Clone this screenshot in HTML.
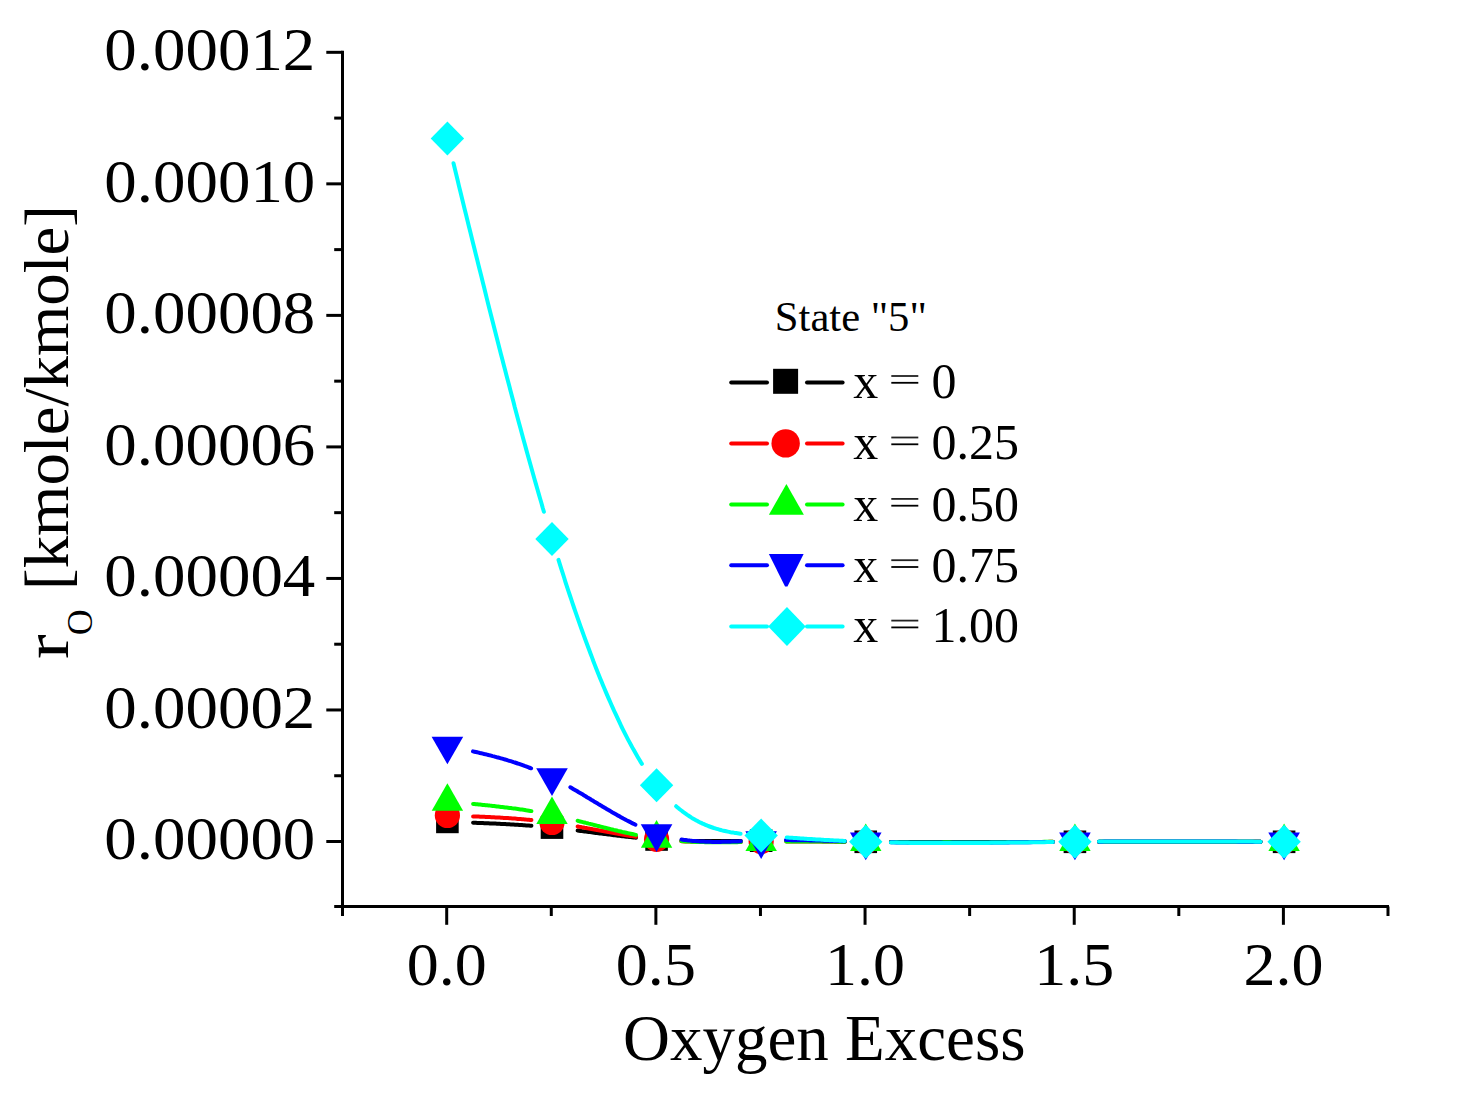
<!DOCTYPE html>
<html><head><meta charset="utf-8"><style>
html,body{margin:0;padding:0;background:#fff;width:1463px;height:1095px;overflow:hidden}
text{font-family:"Liberation Serif", serif}
</style></head><body>
<svg width="1463" height="1095" viewBox="0 0 1463 1095" style="position:absolute;left:0;top:0;font-family:&quot;Liberation Serif&quot;, serif">
<rect width="100%" height="100%" fill="#fff"/>
<g stroke="#000" stroke-width="3" fill="none">
<line x1="342.5" y1="50.8" x2="342.5" y2="908"/>
<line x1="341" y1="906.5" x2="1389" y2="906.5"/>
<line x1="326.3" y1="841.50" x2="342.5" y2="841.50"/>
<line x1="326.3" y1="709.97" x2="342.5" y2="709.97"/>
<line x1="326.3" y1="578.44" x2="342.5" y2="578.44"/>
<line x1="326.3" y1="446.91" x2="342.5" y2="446.91"/>
<line x1="326.3" y1="315.38" x2="342.5" y2="315.38"/>
<line x1="326.3" y1="183.85" x2="342.5" y2="183.85"/>
<line x1="326.3" y1="52.32" x2="342.5" y2="52.32"/>
<line x1="334.2" y1="906.50" x2="342.5" y2="906.50"/>
<line x1="334.2" y1="775.74" x2="342.5" y2="775.74"/>
<line x1="334.2" y1="644.21" x2="342.5" y2="644.21"/>
<line x1="334.2" y1="512.67" x2="342.5" y2="512.67"/>
<line x1="334.2" y1="381.15" x2="342.5" y2="381.15"/>
<line x1="334.2" y1="249.62" x2="342.5" y2="249.62"/>
<line x1="334.2" y1="118.09" x2="342.5" y2="118.09"/>
<line x1="446.70" y1="906.5" x2="446.70" y2="924.8"/>
<line x1="655.88" y1="906.5" x2="655.88" y2="924.8"/>
<line x1="865.05" y1="906.5" x2="865.05" y2="924.8"/>
<line x1="1074.23" y1="906.5" x2="1074.23" y2="924.8"/>
<line x1="1283.40" y1="906.5" x2="1283.40" y2="924.8"/>
<line x1="342.50" y1="906.5" x2="342.50" y2="916"/>
<line x1="551.29" y1="906.5" x2="551.29" y2="916"/>
<line x1="760.46" y1="906.5" x2="760.46" y2="916"/>
<line x1="969.64" y1="906.5" x2="969.64" y2="916"/>
<line x1="1178.81" y1="906.5" x2="1178.81" y2="916"/>
<line x1="1387.99" y1="906.5" x2="1387.99" y2="916"/>
</g>
<text transform="translate(104.30,859.40) scale(1.0475,1)" font-size="62">0.00000</text>
<text transform="translate(104.30,727.87) scale(1.0475,1)" font-size="62">0.00002</text>
<text transform="translate(104.30,596.34) scale(1.0475,1)" font-size="62">0.00004</text>
<text transform="translate(104.30,464.81) scale(1.0475,1)" font-size="62">0.00006</text>
<text transform="translate(104.30,333.28) scale(1.0475,1)" font-size="62">0.00008</text>
<text transform="translate(104.30,201.75) scale(1.0475,1)" font-size="62">0.00010</text>
<text transform="translate(104.30,70.22) scale(1.0475,1)" font-size="62">0.00012</text>
<text transform="translate(446.70,985.3) scale(1.033,1)" font-size="62" text-anchor="middle">0.0</text>
<text transform="translate(655.88,985.3) scale(1.033,1)" font-size="62" text-anchor="middle">0.5</text>
<text transform="translate(865.05,985.3) scale(1.033,1)" font-size="62" text-anchor="middle">1.0</text>
<text transform="translate(1074.23,985.3) scale(1.033,1)" font-size="62" text-anchor="middle">1.5</text>
<text transform="translate(1283.40,985.3) scale(1.033,1)" font-size="62" text-anchor="middle">2.0</text>
<text transform="translate(622.94,1059.50) scale(1.0000,1)" font-size="65" fill="#000" >Oxygen Excess</text>
<text transform="translate(67.70,658.98) rotate(-90) scale(1.1650,1)" font-size="63.5">r</text>
<text transform="translate(92.30,635.28) rotate(-90) scale(1.0000,1)" font-size="36">O</text>
<text transform="translate(67.70,589.91) rotate(-90) scale(1.0200,1)" font-size="63.5">[kmole/kmole]</text>
<polyline points="473.1,822.7 474.5,822.8 475.9,822.8 477.3,822.9 478.7,822.9 480.1,823.0 481.5,823.1 482.9,823.1 484.3,823.2 485.7,823.2 487.1,823.3 488.5,823.3 489.9,823.4 491.3,823.5 492.7,823.5 494.1,823.6 495.5,823.6 496.9,823.7 498.2,823.8 499.6,823.8 501.0,823.9 502.4,824.0 503.8,824.0 505.2,824.1 506.6,824.2 508.0,824.3 509.4,824.3 510.8,824.4 512.2,824.5 513.6,824.6 515.0,824.7 516.4,824.8 517.8,824.8 519.2,824.9 520.6,825.0 522.0,825.1 523.4,825.2 524.8,825.3 526.1,825.4 527.5,825.5 528.9,825.6 530.3,825.7 531.4,825.8" fill="none" stroke="#000000" stroke-width="4" stroke-linecap="round" stroke-linejoin="round"/>
<polyline points="577.6,830.5 579.0,830.7 580.4,830.9 581.8,831.1 583.2,831.2 584.6,831.4 586.0,831.6 587.3,831.8 588.7,832.0 590.1,832.1 591.5,832.3 592.9,832.5 594.3,832.7 595.7,832.9 597.1,833.0 598.5,833.2 599.9,833.4 601.3,833.6 602.7,833.8 604.1,833.9 605.5,834.1 606.9,834.3 608.3,834.5 609.7,834.6 611.1,834.8 612.5,835.0 613.9,835.2 615.2,835.3 616.6,835.5 618.0,835.7 619.4,835.8 620.8,836.0 622.2,836.2 623.6,836.3 625.0,836.5 626.4,836.7 627.8,836.8 629.2,837.0 630.6,837.1 632.0,837.3 633.4,837.4 634.8,837.6 636.0,837.7" fill="none" stroke="#000000" stroke-width="4" stroke-linecap="round" stroke-linejoin="round"/>
<polyline points="681.4,840.7 682.8,840.7 684.2,840.8 685.6,840.8 687.0,840.8 688.4,840.9 689.8,840.9 691.2,840.9 692.6,840.9 694.0,841.0 695.4,841.0 696.7,841.0 698.1,841.0 699.5,841.0 700.9,841.0 702.3,841.0 703.7,841.1 705.1,841.1 706.5,841.1 707.9,841.1 709.3,841.1 710.7,841.1 712.1,841.1 713.5,841.1 714.9,841.1 716.3,841.1 717.7,841.0 719.1,841.0 720.5,841.0 721.9,841.0 723.3,841.0 724.6,841.0 726.0,841.0 727.4,841.0 728.8,841.0 730.2,841.0 731.6,840.9 733.0,840.9 734.4,840.9 735.8,840.9 737.2,840.9 738.6,840.9 740.0,840.9 740.8,840.9" fill="none" stroke="#000000" stroke-width="4" stroke-linecap="round" stroke-linejoin="round"/>
<polyline points="786.3,840.7 787.7,840.8 789.1,840.8 790.5,840.8 791.9,840.8 793.3,840.8 794.7,840.8 796.1,840.8 797.5,840.8 798.9,840.9 800.3,840.9 801.7,840.9 803.0,840.9 804.4,840.9 805.8,840.9 807.2,841.0 808.6,841.0 810.0,841.0 811.4,841.0 812.8,841.0 814.2,841.0 815.6,841.1 817.0,841.1 818.4,841.1 819.8,841.1 821.2,841.1 822.6,841.2 824.0,841.2 825.4,841.2 826.8,841.2 828.2,841.2 829.6,841.3 830.9,841.3 832.3,841.3 833.7,841.3 835.1,841.4 836.5,841.4 837.9,841.4 839.3,841.4 840.7,841.4 842.1,841.5 843.5,841.5 844.8,841.5" fill="none" stroke="#000000" stroke-width="4" stroke-linecap="round" stroke-linejoin="round"/>
<polyline points="890.9,842.1 893.7,842.1 896.5,842.1 899.3,842.1 902.1,842.1 904.9,842.1 907.7,842.2 910.5,842.2 913.2,842.2 916.0,842.2 918.8,842.2 921.6,842.2 924.4,842.2 927.2,842.2 930.0,842.2 932.8,842.2 935.6,842.2 938.4,842.2 941.1,842.2 943.9,842.2 946.7,842.2 949.5,842.2 952.3,842.2 955.1,842.2 957.9,842.2 960.7,842.2 963.5,842.2 966.3,842.2 969.0,842.2 971.8,842.2 974.6,842.2 977.4,842.2 980.2,842.2 983.0,842.2 985.8,842.2 988.6,842.2 991.4,842.2 994.2,842.1 996.9,842.1 999.7,842.1 1002.5,842.1 1005.3,842.1 1008.1,842.1 1010.9,842.1 1013.7,842.1 1016.5,842.1 1019.3,842.0 1022.1,842.0 1024.8,842.0 1027.6,842.0 1030.4,842.0 1033.2,842.0 1036.0,842.0 1038.8,842.0 1041.6,841.9 1044.4,841.9 1047.2,841.9 1050.0,841.9 1052.7,841.9 1052.8,841.9" fill="none" stroke="#000000" stroke-width="4" stroke-linecap="round" stroke-linejoin="round"/>
<polyline points="1099.0,841.7 1101.8,841.7 1104.6,841.7 1107.4,841.7 1110.1,841.7 1112.9,841.7 1115.7,841.7 1118.5,841.7 1121.3,841.7 1124.1,841.7 1126.9,841.7 1129.7,841.7 1132.5,841.7 1135.3,841.7 1138.0,841.7 1140.8,841.7 1143.6,841.7 1146.4,841.7 1149.2,841.7 1152.0,841.7 1154.8,841.7 1157.6,841.7 1160.4,841.7 1163.2,841.7 1165.9,841.7 1168.7,841.7 1171.5,841.7 1174.3,841.7 1177.1,841.7 1179.9,841.7 1182.7,841.7 1185.5,841.7 1188.3,841.7 1191.1,841.7 1193.8,841.7 1196.6,841.7 1199.4,841.7 1202.2,841.7 1205.0,841.7 1207.8,841.7 1210.6,841.7 1213.4,841.7 1216.2,841.7 1219.0,841.7 1221.7,841.7 1224.5,841.7 1227.3,841.7 1230.1,841.7 1232.9,841.7 1235.7,841.7 1238.5,841.7 1241.3,841.7 1244.1,841.7 1246.9,841.7 1249.6,841.7 1252.4,841.7 1255.2,841.7 1258.0,841.8 1260.5,841.8" fill="none" stroke="#000000" stroke-width="4" stroke-linecap="round" stroke-linejoin="round"/>
<rect x="436.10" y="810.60" width="22.60" height="22.60" fill="#000000"/>
<rect x="540.69" y="816.30" width="22.60" height="22.60" fill="#000000"/>
<rect x="645.28" y="828.20" width="22.60" height="22.60" fill="#000000"/>
<rect x="749.86" y="829.40" width="22.60" height="22.60" fill="#000000"/>
<rect x="854.45" y="830.50" width="22.60" height="22.60" fill="#000000"/>
<rect x="1063.63" y="830.50" width="22.60" height="22.60" fill="#000000"/>
<rect x="1272.80" y="830.50" width="22.60" height="22.60" fill="#000000"/>
<polyline points="473.1,816.4 474.5,816.4 475.9,816.5 477.3,816.5 478.7,816.6 480.1,816.7 481.5,816.7 482.9,816.8 484.3,816.8 485.7,816.9 487.1,817.0 488.5,817.0 489.9,817.1 491.3,817.2 492.7,817.2 494.1,817.3 495.5,817.4 496.9,817.5 498.2,817.5 499.6,817.6 501.0,817.7 502.4,817.8 503.8,817.9 505.2,818.0 506.6,818.1 508.0,818.1 509.4,818.2 510.8,818.3 512.2,818.4 513.6,818.5 515.0,818.6 516.4,818.7 517.8,818.9 519.2,819.0 520.6,819.1 522.0,819.2 523.4,819.3 524.8,819.4 526.1,819.6 527.5,819.7 528.9,819.8 530.3,820.0 531.4,820.1" fill="none" stroke="#ff0000" stroke-width="4" stroke-linecap="round" stroke-linejoin="round"/>
<polyline points="577.6,826.5 579.0,826.8 580.4,827.0 581.8,827.3 583.2,827.5 584.6,827.8 586.0,828.0 587.3,828.3 588.7,828.5 590.1,828.8 591.5,829.0 592.9,829.3 594.3,829.5 595.7,829.8 597.1,830.1 598.5,830.3 599.9,830.6 601.3,830.8 602.7,831.1 604.1,831.3 605.5,831.6 606.9,831.8 608.3,832.1 609.7,832.3 611.1,832.6 612.5,832.8 613.9,833.1 615.2,833.3 616.6,833.6 618.0,833.8 619.4,834.1 620.8,834.3 622.2,834.5 623.6,834.8 625.0,835.0 626.4,835.2 627.8,835.5 629.2,835.7 630.6,835.9 632.0,836.1 633.4,836.3 634.8,836.6 636.0,836.7" fill="none" stroke="#ff0000" stroke-width="4" stroke-linecap="round" stroke-linejoin="round"/>
<polyline points="681.4,841.3 682.8,841.3 684.2,841.4 685.6,841.5 687.0,841.5 688.4,841.6 689.8,841.6 691.2,841.7 692.6,841.7 694.0,841.8 695.4,841.8 696.7,841.8 698.1,841.9 699.5,841.9 700.9,841.9 702.3,841.9 703.7,842.0 705.1,842.0 706.5,842.0 707.9,842.0 709.3,842.0 710.7,842.0 712.1,842.0 713.5,842.0 714.9,842.0 716.3,842.0 717.7,842.0 719.1,842.0 720.5,842.0 721.9,842.0 723.3,842.0 724.6,842.0 726.0,842.0 727.4,842.0 728.8,842.0 730.2,842.0 731.6,842.0 733.0,841.9 734.4,841.9 735.8,841.9 737.2,841.9 738.6,841.9 740.0,841.9 740.8,841.9" fill="none" stroke="#ff0000" stroke-width="4" stroke-linecap="round" stroke-linejoin="round"/>
<polyline points="786.3,841.4 787.7,841.4 789.1,841.4 790.5,841.4 791.9,841.4 793.3,841.4 794.7,841.4 796.1,841.4 797.5,841.4 798.9,841.4 800.3,841.4 801.7,841.5 803.0,841.5 804.4,841.5 805.8,841.5 807.2,841.5 808.6,841.5 810.0,841.5 811.4,841.5 812.8,841.5 814.2,841.5 815.6,841.5 817.0,841.5 818.4,841.5 819.8,841.5 821.2,841.5 822.6,841.5 824.0,841.5 825.4,841.5 826.8,841.6 828.2,841.6 829.6,841.6 830.9,841.6 832.3,841.6 833.7,841.6 835.1,841.6 836.5,841.6 837.9,841.6 839.3,841.6 840.7,841.6 842.1,841.6 843.5,841.7 844.8,841.7" fill="none" stroke="#ff0000" stroke-width="4" stroke-linecap="round" stroke-linejoin="round"/>
<polyline points="890.9,841.9 893.7,841.9 896.5,841.9 899.3,841.9 902.1,841.9 904.9,842.0 907.7,842.0 910.5,842.0 913.2,842.0 916.0,842.0 918.8,842.0 921.6,842.0 924.4,842.0 927.2,842.0 930.0,842.0 932.8,842.0 935.6,842.0 938.4,842.0 941.1,842.0 943.9,842.0 946.7,842.0 949.5,842.0 952.3,842.0 955.1,842.0 957.9,842.0 960.7,842.0 963.5,842.0 966.3,842.0 969.0,842.0 971.8,842.0 974.6,842.0 977.4,842.0 980.2,842.0 983.0,842.0 985.8,842.0 988.6,842.0 991.4,842.0 994.2,842.0 996.9,842.0 999.7,841.9 1002.5,841.9 1005.3,841.9 1008.1,841.9 1010.9,841.9 1013.7,841.9 1016.5,841.9 1019.3,841.9 1022.1,841.9 1024.8,841.9 1027.6,841.9 1030.4,841.9 1033.2,841.9 1036.0,841.9 1038.8,841.9 1041.6,841.9 1044.4,841.9 1047.2,841.9 1050.0,841.8 1052.7,841.8 1052.8,841.8" fill="none" stroke="#ff0000" stroke-width="4" stroke-linecap="round" stroke-linejoin="round"/>
<polyline points="1099.0,841.8 1101.8,841.8 1104.6,841.8 1107.4,841.8 1110.1,841.8 1112.9,841.8 1115.7,841.8 1118.5,841.7 1121.3,841.7 1124.1,841.7 1126.9,841.7 1129.7,841.7 1132.5,841.7 1135.3,841.7 1138.0,841.7 1140.8,841.7 1143.6,841.7 1146.4,841.7 1149.2,841.7 1152.0,841.7 1154.8,841.7 1157.6,841.7 1160.4,841.7 1163.2,841.7 1165.9,841.7 1168.7,841.7 1171.5,841.7 1174.3,841.7 1177.1,841.7 1179.9,841.7 1182.7,841.7 1185.5,841.7 1188.3,841.7 1191.1,841.7 1193.8,841.7 1196.6,841.7 1199.4,841.7 1202.2,841.7 1205.0,841.7 1207.8,841.7 1210.6,841.7 1213.4,841.7 1216.2,841.8 1219.0,841.8 1221.7,841.8 1224.5,841.8 1227.3,841.8 1230.1,841.8 1232.9,841.8 1235.7,841.8 1238.5,841.8 1241.3,841.8 1244.1,841.8 1246.9,841.8 1249.6,841.8 1252.4,841.8 1255.2,841.8 1258.0,841.8 1260.5,841.8" fill="none" stroke="#ff0000" stroke-width="4" stroke-linecap="round" stroke-linejoin="round"/>
<circle cx="447.40" cy="815.50" r="12.60" fill="#ff0000"/>
<circle cx="551.99" cy="822.50" r="12.60" fill="#ff0000"/>
<circle cx="656.58" cy="839.40" r="12.60" fill="#ff0000"/>
<circle cx="761.16" cy="841.60" r="12.60" fill="#ff0000"/>
<circle cx="865.75" cy="841.80" r="12.60" fill="#ff0000"/>
<circle cx="1074.93" cy="841.80" r="12.60" fill="#ff0000"/>
<circle cx="1284.10" cy="841.80" r="12.60" fill="#ff0000"/>
<polyline points="473.1,803.9 474.5,804.0 475.9,804.2 477.3,804.3 478.7,804.5 480.1,804.6 481.5,804.7 482.9,804.9 484.3,805.0 485.7,805.2 487.1,805.3 488.5,805.4 489.9,805.6 491.3,805.7 492.7,805.9 494.1,806.0 495.5,806.2 496.9,806.4 498.2,806.5 499.6,806.7 501.0,806.9 502.4,807.0 503.8,807.2 505.2,807.4 506.6,807.5 508.0,807.7 509.4,807.9 510.8,808.1 512.2,808.3 513.6,808.4 515.0,808.6 516.4,808.8 517.8,809.0 519.2,809.2 520.6,809.4 522.0,809.6 523.4,809.8 524.8,810.0 526.1,810.3 527.5,810.5 528.9,810.7 530.3,810.9 531.4,811.1" fill="none" stroke="#00ff00" stroke-width="4" stroke-linecap="round" stroke-linejoin="round"/>
<polyline points="577.6,820.8 578.9,821.1 580.3,821.5 581.7,821.8 583.1,822.2 584.5,822.5 585.9,822.9 587.3,823.2 588.7,823.6 590.1,823.9 591.5,824.3 592.9,824.6 594.3,825.0 595.7,825.3 597.1,825.7 598.5,826.0 599.9,826.4 601.3,826.8 602.7,827.1 604.1,827.5 605.4,827.8 606.8,828.1 608.2,828.5 609.6,828.8 611.0,829.2 612.4,829.5 613.8,829.9 615.2,830.2 616.6,830.5 618.0,830.9 619.4,831.2 620.8,831.5 622.2,831.9 623.6,832.2 625.0,832.5 626.4,832.8 627.8,833.1 629.2,833.4 630.6,833.7 632.0,834.0 633.3,834.3 634.7,834.6 636.0,834.9" fill="none" stroke="#00ff00" stroke-width="4" stroke-linecap="round" stroke-linejoin="round"/>
<polyline points="681.4,841.1 682.8,841.2 684.2,841.3 685.6,841.4 687.0,841.5 688.4,841.6 689.8,841.6 691.2,841.7 692.6,841.8 694.0,841.8 695.4,841.9 696.7,841.9 698.1,842.0 699.5,842.0 700.9,842.1 702.3,842.1 703.7,842.1 705.1,842.2 706.5,842.2 707.9,842.2 709.3,842.2 710.7,842.2 712.1,842.3 713.5,842.3 714.9,842.3 716.3,842.3 717.7,842.3 719.1,842.3 720.5,842.3 721.9,842.3 723.3,842.3 724.6,842.3 726.0,842.3 727.4,842.3 728.8,842.3 730.2,842.2 731.6,842.2 733.0,842.2 734.4,842.2 735.8,842.2 737.2,842.2 738.6,842.1 740.0,842.1 740.8,842.1" fill="none" stroke="#00ff00" stroke-width="4" stroke-linecap="round" stroke-linejoin="round"/>
<polyline points="786.3,841.6 787.7,841.6 789.1,841.6 790.5,841.6 791.9,841.6 793.3,841.6 794.7,841.6 796.1,841.6 797.5,841.5 798.9,841.5 800.3,841.5 801.7,841.5 803.0,841.5 804.4,841.5 805.8,841.5 807.2,841.5 808.6,841.5 810.0,841.6 811.4,841.6 812.8,841.6 814.2,841.6 815.6,841.6 817.0,841.6 818.4,841.6 819.8,841.6 821.2,841.6 822.6,841.6 824.0,841.6 825.4,841.6 826.8,841.6 828.2,841.6 829.6,841.6 830.9,841.6 832.3,841.6 833.7,841.6 835.1,841.6 836.5,841.6 837.9,841.7 839.3,841.7 840.7,841.7 842.1,841.7 843.5,841.7 844.8,841.7" fill="none" stroke="#00ff00" stroke-width="4" stroke-linecap="round" stroke-linejoin="round"/>
<polyline points="890.9,841.9 893.7,841.9 896.5,841.9 899.3,841.9 902.1,841.9 904.9,841.9 907.7,841.9 910.5,841.9 913.2,841.9 916.0,842.0 918.8,842.0 921.6,842.0 924.4,842.0 927.2,842.0 930.0,842.0 932.8,842.0 935.6,842.0 938.4,842.0 941.1,842.0 943.9,842.0 946.7,842.0 949.5,842.0 952.3,842.0 955.1,842.0 957.9,842.0 960.7,842.0 963.5,842.0 966.3,842.0 969.0,842.0 971.8,842.0 974.6,842.0 977.4,842.0 980.2,842.0 983.0,841.9 985.8,841.9 988.6,841.9 991.4,841.9 994.2,841.9 996.9,841.9 999.7,841.9 1002.5,841.9 1005.3,841.9 1008.1,841.9 1010.9,841.9 1013.7,841.9 1016.5,841.9 1019.3,841.9 1022.1,841.9 1024.8,841.9 1027.6,841.9 1030.4,841.9 1033.2,841.9 1036.0,841.9 1038.8,841.9 1041.6,841.9 1044.4,841.8 1047.2,841.8 1050.0,841.8 1052.7,841.8 1052.8,841.8" fill="none" stroke="#00ff00" stroke-width="4" stroke-linecap="round" stroke-linejoin="round"/>
<polyline points="1099.0,841.8 1101.8,841.8 1104.6,841.8 1107.4,841.8 1110.1,841.8 1112.9,841.8 1115.7,841.8 1118.5,841.8 1121.3,841.8 1124.1,841.8 1126.9,841.8 1129.7,841.8 1132.5,841.8 1135.3,841.7 1138.0,841.7 1140.8,841.7 1143.6,841.7 1146.4,841.7 1149.2,841.7 1152.0,841.7 1154.8,841.7 1157.6,841.7 1160.4,841.7 1163.2,841.7 1165.9,841.7 1168.7,841.7 1171.5,841.7 1174.3,841.7 1177.1,841.7 1179.9,841.7 1182.7,841.7 1185.5,841.7 1188.3,841.7 1191.1,841.7 1193.8,841.7 1196.6,841.8 1199.4,841.8 1202.2,841.8 1205.0,841.8 1207.8,841.8 1210.6,841.8 1213.4,841.8 1216.2,841.8 1219.0,841.8 1221.7,841.8 1224.5,841.8 1227.3,841.8 1230.1,841.8 1232.9,841.8 1235.7,841.8 1238.5,841.8 1241.3,841.8 1244.1,841.8 1246.9,841.8 1249.6,841.8 1252.4,841.8 1255.2,841.8 1258.0,841.8 1260.5,841.8" fill="none" stroke="#00ff00" stroke-width="4" stroke-linecap="round" stroke-linejoin="round"/>
<polygon points="431.70,810.80 463.10,810.80 447.40,783.20" fill="#00ff00"/>
<polygon points="536.29,824.10 567.69,824.10 551.99,796.50" fill="#00ff00"/>
<polygon points="640.88,847.70 672.28,847.70 656.58,820.10" fill="#00ff00"/>
<polygon points="745.46,851.00 776.86,851.00 761.16,823.40" fill="#00ff00"/>
<polygon points="850.05,851.00 881.45,851.00 865.75,823.40" fill="#00ff00"/>
<polygon points="1059.23,851.00 1090.63,851.00 1074.93,823.40" fill="#00ff00"/>
<polygon points="1268.40,851.00 1299.80,851.00 1284.10,823.40" fill="#00ff00"/>
<polyline points="473.0,751.4 474.4,751.7 475.8,752.0 477.2,752.3 478.6,752.6 480.0,753.0 481.4,753.3 482.8,753.6 484.2,754.0 485.6,754.3 487.0,754.6 488.4,755.0 489.8,755.3 491.2,755.7 492.6,756.1 494.0,756.4 495.4,756.8 496.7,757.2 498.1,757.5 499.5,757.9 500.9,758.3 502.3,758.7 503.7,759.1 505.1,759.5 506.5,759.9 507.9,760.4 509.3,760.8 510.7,761.2 512.1,761.6 513.5,762.1 514.9,762.5 516.3,763.0 517.7,763.5 519.1,763.9 520.5,764.4 521.9,764.9 523.3,765.4 524.6,765.9 526.0,766.4 527.4,766.9 528.8,767.5 530.2,768.0 531.1,768.3" fill="none" stroke="#0000ff" stroke-width="4" stroke-linecap="round" stroke-linejoin="round"/>
<polyline points="570.3,787.3 571.7,788.1 573.1,788.9 574.5,789.7 575.9,790.5 577.3,791.3 578.7,792.2 580.1,793.0 581.5,793.8 582.9,794.6 584.2,795.5 585.6,796.3 587.0,797.2 588.4,798.0 589.8,798.8 591.2,799.7 592.6,800.5 594.0,801.4 595.4,802.2 596.8,803.0 598.2,803.9 599.6,804.7 601.0,805.6 602.4,806.4 603.8,807.2 605.2,808.1 606.6,808.9 608.0,809.7 609.4,810.5 610.8,811.4 612.1,812.2 613.5,813.0 614.9,813.8 616.3,814.6 617.7,815.4 619.1,816.1 620.5,816.9 621.9,817.7 623.3,818.5 624.7,819.2 626.1,820.0 627.5,820.7 628.9,821.4 630.3,822.1 631.7,822.9 633.1,823.6 634.5,824.2 635.5,824.7" fill="none" stroke="#0000ff" stroke-width="4" stroke-linecap="round" stroke-linejoin="round"/>
<polyline points="681.5,839.5 682.9,839.7 684.3,839.9 685.7,840.1 687.1,840.3 688.5,840.4 689.9,840.6 691.3,840.7 692.7,840.9 694.1,841.0 695.5,841.1 696.9,841.2 698.3,841.3 699.7,841.4 701.1,841.5 702.5,841.6 703.9,841.6 705.3,841.7 706.7,841.7 708.0,841.8 709.4,841.8 710.8,841.8 712.2,841.9 713.6,841.9 715.0,841.9 716.4,841.9 717.8,841.9 719.2,841.9 720.6,841.9 722.0,841.8 723.4,841.8 724.8,841.8 726.2,841.8 727.6,841.7 729.0,841.7 730.4,841.7 731.8,841.6 733.2,841.6 734.6,841.5 735.9,841.5 737.3,841.4 738.7,841.4 740.1,841.3 740.8,841.3" fill="none" stroke="#0000ff" stroke-width="4" stroke-linecap="round" stroke-linejoin="round"/>
<polyline points="786.0,840.1 787.4,840.1 788.8,840.1 790.2,840.1 791.6,840.2 793.0,840.2 794.4,840.2 795.8,840.2 797.2,840.2 798.6,840.2 800.0,840.2 801.4,840.2 802.8,840.3 804.2,840.3 805.6,840.3 807.0,840.3 808.3,840.3 809.7,840.4 811.1,840.4 812.5,840.4 813.9,840.5 815.3,840.5 816.7,840.5 818.1,840.5 819.5,840.6 820.9,840.6 822.3,840.6 823.7,840.7 825.1,840.7 826.5,840.7 827.9,840.8 829.3,840.8 830.7,840.9 832.1,840.9 833.5,840.9 834.9,841.0 836.2,841.0 837.6,841.0 839.0,841.1 840.4,841.1 841.8,841.2 843.2,841.2 844.6,841.2 844.8,841.2" fill="none" stroke="#0000ff" stroke-width="4" stroke-linecap="round" stroke-linejoin="round"/>
<polyline points="890.9,842.3 893.7,842.3 896.5,842.4 899.3,842.4 902.1,842.4 904.9,842.5 907.7,842.5 910.5,842.5 913.2,842.5 916.0,842.6 918.8,842.6 921.6,842.6 924.4,842.6 927.2,842.6 930.0,842.6 932.8,842.6 935.6,842.6 938.4,842.6 941.1,842.6 943.9,842.7 946.7,842.7 949.5,842.7 952.3,842.6 955.1,842.6 957.9,842.6 960.7,842.6 963.5,842.6 966.3,842.6 969.0,842.6 971.8,842.6 974.6,842.6 977.4,842.6 980.2,842.5 983.0,842.5 985.8,842.5 988.6,842.5 991.4,842.5 994.2,842.5 996.9,842.4 999.7,842.4 1002.5,842.4 1005.3,842.4 1008.1,842.4 1010.9,842.3 1013.7,842.3 1016.5,842.3 1019.3,842.3 1022.1,842.2 1024.8,842.2 1027.6,842.2 1030.4,842.2 1033.2,842.1 1036.0,842.1 1038.8,842.1 1041.6,842.1 1044.4,842.0 1047.2,842.0 1050.0,842.0 1052.7,842.0 1052.8,842.0" fill="none" stroke="#0000ff" stroke-width="4" stroke-linecap="round" stroke-linejoin="round"/>
<polyline points="1099.0,841.7 1101.8,841.7 1104.6,841.6 1107.4,841.6 1110.1,841.6 1112.9,841.6 1115.7,841.6 1118.5,841.6 1121.3,841.6 1124.1,841.6 1126.9,841.6 1129.7,841.6 1132.5,841.6 1135.3,841.6 1138.0,841.5 1140.8,841.5 1143.6,841.5 1146.4,841.5 1149.2,841.5 1152.0,841.5 1154.8,841.5 1157.6,841.5 1160.4,841.5 1163.2,841.5 1165.9,841.5 1168.7,841.5 1171.5,841.5 1174.3,841.5 1177.1,841.5 1179.9,841.5 1182.7,841.5 1185.5,841.5 1188.3,841.5 1191.1,841.5 1193.8,841.6 1196.6,841.6 1199.4,841.6 1202.2,841.6 1205.0,841.6 1207.8,841.6 1210.6,841.6 1213.4,841.6 1216.2,841.6 1219.0,841.6 1221.7,841.6 1224.5,841.6 1227.3,841.6 1230.1,841.6 1232.9,841.6 1235.7,841.6 1238.5,841.7 1241.3,841.7 1244.1,841.7 1246.9,841.7 1249.6,841.7 1252.4,841.7 1255.2,841.7 1258.0,841.7 1260.5,841.7" fill="none" stroke="#0000ff" stroke-width="4" stroke-linecap="round" stroke-linejoin="round"/>
<polygon points="431.60,736.70 463.20,736.70 447.40,764.30" fill="#0000ff"/>
<polygon points="536.19,768.30 567.79,768.30 551.99,795.90" fill="#0000ff"/>
<polygon points="640.78,824.30 672.38,824.30 656.58,851.90" fill="#0000ff"/>
<polygon points="745.36,831.30 776.96,831.30 761.16,858.90" fill="#0000ff"/>
<polygon points="849.95,832.60 881.55,832.60 865.75,860.20" fill="#0000ff"/>
<polygon points="1059.13,832.60 1090.73,832.60 1074.93,860.20" fill="#0000ff"/>
<polygon points="1268.30,832.60 1299.90,832.60 1284.10,860.20" fill="#0000ff"/>
<polyline points="453.5,163.3 454.9,169.0 456.3,174.7 457.7,180.4 459.0,186.1 460.4,191.8 461.8,197.5 463.2,203.2 464.6,208.9 466.0,214.6 467.4,220.2 468.8,225.9 470.2,231.6 471.6,237.2 473.0,242.9 474.4,248.5 475.8,254.2 477.2,259.8 478.6,265.4 480.0,271.0 481.4,276.6 482.8,282.2 484.2,287.8 485.6,293.4 486.9,298.9 488.3,304.5 489.7,310.0 491.1,315.6 492.5,321.1 493.9,326.6 495.3,332.1 496.7,337.5 498.1,343.0 499.5,348.4 500.9,353.9 502.3,359.3 503.7,364.7 505.1,370.1 506.5,375.4 507.9,380.8 509.3,386.1 510.7,391.4 512.1,396.7 513.5,402.0 514.8,407.3 516.2,412.5 517.6,417.7 519.0,422.9 520.4,428.1 521.8,433.2 523.2,438.4 524.6,443.5 526.0,448.6 527.4,453.7 528.8,458.7 530.2,463.7 531.6,468.7 533.0,473.7 534.4,478.7 535.8,483.6 537.2,488.5 538.6,493.4 540.0,498.2 541.4,503.0 542.7,507.8 543.9,511.8" fill="none" stroke="#00ffff" stroke-width="4" stroke-linecap="round" stroke-linejoin="round"/>
<polyline points="558.5,559.9 559.9,564.4 561.3,568.8 562.7,573.1 564.1,577.5 565.4,581.8 566.8,586.1 568.2,590.3 569.6,594.5 571.0,598.7 572.4,602.9 573.8,607.0 575.2,611.1 576.6,615.1 578.0,619.1 579.4,623.1 580.8,627.1 582.2,631.0 583.6,634.9 585.0,638.7 586.4,642.5 587.8,646.3 589.2,650.0 590.6,653.7 592.0,657.4 593.3,661.0 594.7,664.6 596.1,668.2 597.5,671.7 598.9,675.2 600.3,678.7 601.7,682.1 603.1,685.5 604.5,688.8 605.9,692.1 607.3,695.4 608.7,698.6 610.1,701.8 611.5,705.0 612.9,708.1 614.3,711.2 615.7,714.2 617.1,717.2 618.5,720.2 619.9,723.1 621.2,726.0 622.6,728.8 624.0,731.6 625.4,734.4 626.8,737.1 628.2,739.8 629.6,742.4 631.0,745.0 632.4,747.6 633.8,750.1 635.2,752.6 636.6,755.0 638.0,757.4 639.4,759.8 640.8,762.1 641.9,763.8" fill="none" stroke="#00ffff" stroke-width="4" stroke-linecap="round" stroke-linejoin="round"/>
<polyline points="676.1,806.2 677.5,807.4 678.9,808.6 680.3,809.7 681.7,810.8 683.1,811.9 684.5,812.9 685.9,813.9 687.3,814.9 688.7,815.8 690.1,816.7 691.4,817.6 692.8,818.5 694.2,819.3 695.6,820.1 697.0,820.8 698.4,821.6 699.8,822.3 701.2,822.9 702.6,823.6 704.0,824.2 705.4,824.8 706.8,825.4 708.2,826.0 709.6,826.5 711.0,827.0 712.4,827.5 713.8,828.0 715.2,828.4 716.6,828.8 718.0,829.2 719.3,829.6 720.7,830.0 722.1,830.4 723.5,830.7 724.9,831.0 726.3,831.3 727.7,831.6 729.1,831.9 730.5,832.2 731.9,832.4 733.3,832.6 734.7,832.9 736.1,833.1 737.5,833.3 738.9,833.5 740.3,833.7 740.6,833.7" fill="none" stroke="#00ffff" stroke-width="4" stroke-linecap="round" stroke-linejoin="round"/>
<polyline points="786.7,837.5 788.1,837.6 789.5,837.7 790.9,837.8 792.3,837.8 793.7,837.9 795.1,838.0 796.5,838.1 797.9,838.2 799.2,838.3 800.6,838.4 802.0,838.5 803.4,838.6 804.8,838.7 806.2,838.8 807.6,838.9 809.0,838.9 810.4,839.0 811.8,839.1 813.2,839.2 814.6,839.3 816.0,839.4 817.4,839.5 818.8,839.5 820.2,839.6 821.6,839.7 823.0,839.8 824.4,839.9 825.7,839.9 827.1,840.0 828.5,840.1 829.9,840.2 831.3,840.2 832.7,840.3 834.1,840.4 835.5,840.5 836.9,840.5 838.3,840.6 839.7,840.7 841.1,840.7 842.5,840.8 843.9,840.9 844.7,840.9" fill="none" stroke="#00ffff" stroke-width="4" stroke-linecap="round" stroke-linejoin="round"/>
<polyline points="890.9,842.5 893.7,842.6 896.5,842.6 899.3,842.7 902.1,842.7 904.9,842.8 907.7,842.8 910.5,842.9 913.2,842.9 916.0,842.9 918.8,843.0 921.6,843.0 924.4,843.0 927.2,843.0 930.0,843.0 932.8,843.1 935.6,843.1 938.4,843.1 941.1,843.1 943.9,843.1 946.7,843.1 949.5,843.1 952.3,843.1 955.1,843.1 957.9,843.1 960.7,843.1 963.5,843.0 966.3,843.0 969.0,843.0 971.8,843.0 974.6,843.0 977.4,843.0 980.2,842.9 983.0,842.9 985.8,842.9 988.6,842.9 991.4,842.8 994.2,842.8 996.9,842.8 999.7,842.7 1002.5,842.7 1005.3,842.7 1008.1,842.6 1010.9,842.6 1013.7,842.6 1016.5,842.5 1019.3,842.5 1022.1,842.5 1024.8,842.4 1027.6,842.4 1030.4,842.3 1033.2,842.3 1036.0,842.3 1038.8,842.2 1041.6,842.2 1044.4,842.2 1047.2,842.1 1050.0,842.1 1052.7,842.1 1052.8,842.1" fill="none" stroke="#00ffff" stroke-width="4" stroke-linecap="round" stroke-linejoin="round"/>
<polyline points="1099.0,841.6 1101.8,841.6 1104.6,841.6 1107.4,841.5 1110.1,841.5 1112.9,841.5 1115.7,841.5 1118.5,841.5 1121.3,841.5 1124.1,841.5 1126.9,841.4 1129.7,841.4 1132.5,841.4 1135.3,841.4 1138.0,841.4 1140.8,841.4 1143.6,841.4 1146.4,841.4 1149.2,841.4 1152.0,841.4 1154.8,841.4 1157.6,841.4 1160.4,841.4 1163.2,841.4 1165.9,841.4 1168.7,841.4 1171.5,841.4 1174.3,841.4 1177.1,841.4 1179.9,841.4 1182.7,841.4 1185.5,841.4 1188.3,841.4 1191.1,841.4 1193.8,841.4 1196.6,841.4 1199.4,841.4 1202.2,841.4 1205.0,841.5 1207.8,841.5 1210.6,841.5 1213.4,841.5 1216.2,841.5 1219.0,841.5 1221.7,841.5 1224.5,841.5 1227.3,841.5 1230.1,841.5 1232.9,841.6 1235.7,841.6 1238.5,841.6 1241.3,841.6 1244.1,841.6 1246.9,841.6 1249.6,841.6 1252.4,841.6 1255.2,841.7 1258.0,841.7 1260.5,841.7" fill="none" stroke="#00ffff" stroke-width="4" stroke-linecap="round" stroke-linejoin="round"/>
<polygon points="447.40,121.40 464.10,138.40 447.40,155.40 430.70,138.40" fill="#00ffff"/>
<polygon points="551.99,521.90 568.69,538.90 551.99,555.90 535.29,538.90" fill="#00ffff"/>
<polygon points="656.58,768.20 673.28,785.20 656.58,802.20 639.88,785.20" fill="#00ffff"/>
<polygon points="761.16,818.60 777.86,835.60 761.16,852.60 744.46,835.60" fill="#00ffff"/>
<polygon points="865.75,824.80 882.45,841.80 865.75,858.80 849.05,841.80" fill="#00ffff"/>
<polygon points="1074.93,824.80 1091.63,841.80 1074.93,858.80 1058.23,841.80" fill="#00ffff"/>
<polygon points="1284.10,824.80 1300.80,841.80 1284.10,858.80 1267.40,841.80" fill="#00ffff"/>
<text transform="translate(774.85,331.00) scale(1.0270,1)" font-size="41.5" fill="#000" >State "5"</text>
<line x1="731.2" y1="382.5" x2="767" y2="382.5" stroke="#000000" stroke-width="4" stroke-linecap="round"/>
<line x1="807" y1="382.5" x2="842.6" y2="382.5" stroke="#000000" stroke-width="4" stroke-linecap="round"/>
<rect x="773.10" y="368.80" width="25.00" height="25.00" fill="#000000"/>
<text transform="translate(853.16,397.70) scale(1.0000,1)" font-size="50" fill="#000" >x</text>
<rect x="891.3" y="375.10" width="27" height="1.8" fill="#222"/>
<rect x="891.3" y="381.90" width="27" height="1.8" fill="#000"/>
<text x="931.4" y="397.70" font-size="50">0</text>
<line x1="731.2" y1="443.5" x2="767" y2="443.5" stroke="#ff0000" stroke-width="4" stroke-linecap="round"/>
<line x1="807" y1="443.5" x2="842.6" y2="443.5" stroke="#ff0000" stroke-width="4" stroke-linecap="round"/>
<circle cx="785.65" cy="443.40" r="14.20" fill="#ff0000"/>
<text transform="translate(853.16,459.20) scale(1.0000,1)" font-size="50" fill="#000" >x</text>
<rect x="891.3" y="436.60" width="27" height="1.8" fill="#222"/>
<rect x="891.3" y="443.40" width="27" height="1.8" fill="#000"/>
<text x="931.4" y="459.20" font-size="50">0.25</text>
<line x1="731.2" y1="504.5" x2="767" y2="504.5" stroke="#00ff00" stroke-width="4" stroke-linecap="round"/>
<line x1="807" y1="504.5" x2="842.6" y2="504.5" stroke="#00ff00" stroke-width="4" stroke-linecap="round"/>
<polygon points="768.90,514.77 803.90,514.77 786.40,483.97" fill="#00ff00"/>
<text transform="translate(853.16,520.60) scale(1.0000,1)" font-size="50" fill="#000" >x</text>
<rect x="891.3" y="498.00" width="27" height="1.8" fill="#222"/>
<rect x="891.3" y="504.80" width="27" height="1.8" fill="#000"/>
<text x="931.4" y="520.60" font-size="50">0.50</text>
<line x1="731.2" y1="565.3" x2="767" y2="565.3" stroke="#0000ff" stroke-width="4" stroke-linecap="round"/>
<line x1="807" y1="565.3" x2="842.6" y2="565.3" stroke="#0000ff" stroke-width="4" stroke-linecap="round"/>
<polygon points="768.90,553.90 803.60,553.90 787.45,586.50 785.05,586.50" fill="#0000ff"/>
<text transform="translate(853.16,581.90) scale(1.0000,1)" font-size="50" fill="#000" >x</text>
<rect x="891.3" y="559.30" width="27" height="1.8" fill="#222"/>
<rect x="891.3" y="566.10" width="27" height="1.8" fill="#000"/>
<text x="931.4" y="581.90" font-size="50">0.75</text>
<line x1="731.2" y1="626.4" x2="767" y2="626.4" stroke="#00ffff" stroke-width="4" stroke-linecap="round"/>
<line x1="807" y1="626.4" x2="842.6" y2="626.4" stroke="#00ffff" stroke-width="4" stroke-linecap="round"/>
<polygon points="786.95,606.90 805.70,626.40 786.95,645.90 768.20,626.40" fill="#00ffff"/>
<text transform="translate(853.16,642.30) scale(1.0000,1)" font-size="50" fill="#000" >x</text>
<rect x="891.3" y="619.70" width="27" height="1.8" fill="#222"/>
<rect x="891.3" y="626.50" width="27" height="1.8" fill="#000"/>
<text x="931.4" y="642.30" font-size="50">1.00</text>
</svg>
</body></html>
